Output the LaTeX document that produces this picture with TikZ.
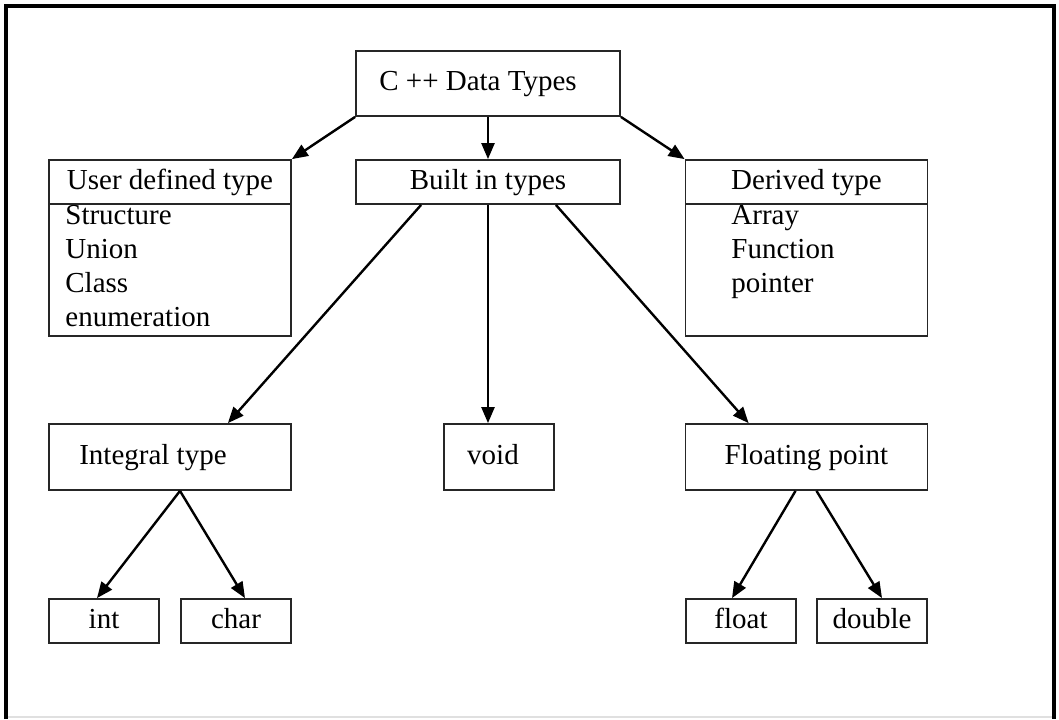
\documentclass[tikz,border=0pt]{standalone}
\usepackage{fontspec}
\setmainfont{Liberation Serif}
\usetikzlibrary{positioning}
\usetikzlibrary{arrows.meta}

\begin{document}
\begin{tikzpicture}[x=0.5pt, y=-0.5pt, font=\fontsize{14.5}{17}\selectfont,
    box/.style={draw=black!85, line width=0.9pt, inner sep=0pt, text height=10pt, text depth=3pt},
    arr/.style={draw=black, line width=1.2pt, -{Triangle[length=8pt,width=6.5pt]}}]
    \useasboundingbox (0,0) rectangle (1059,719);
    % frame
    \draw[black!12, line width=1pt] (6,717) -- (1054,717);
    \draw[line width=1.8pt] (6,719) -- (6,6) -- (1054,6) -- (1054,719);
    % nodes
    \node[box, minimum width=132pt, minimum height=32.5pt] (root) at (488,83.5) {\hspace*{-10pt}C ++ Data Types};
    \node[box, minimum width=121pt, minimum height=22pt] (user) at (170,182) {User defined type};
    \node[box, minimum width=121pt, minimum height=66pt] (userlist) at (170,270) {};
    \node[box, minimum width=132pt, minimum height=22pt] (built) at (488,182) {Built in types};
    \node[box, minimum width=121pt, minimum height=22pt] (derived) at (806.5,182) {Derived type};
    \node[box, minimum width=121pt, minimum height=66pt] (derivedlist) at (806.5,270) {};
    \node[anchor=north west, align=left, inner sep=0pt] (usertext) at (65,205) {Structure\\Union\\Class\\enumeration};
    \node[anchor=north west, align=left, inner sep=0pt] (derivedtext) at (731,205) {Array\\Function\\pointer};
    \node[box, minimum width=121pt, minimum height=33pt] (integral) at (170,457) {\hspace*{-17pt}Integral type};
    \node[box, minimum width=55pt, minimum height=33pt] (void) at (499,457) {\hspace*{-6pt}void};
    \node[box, minimum width=121pt, minimum height=33pt] (floating) at (806.5,457) {Floating point};
    \node[box, minimum width=55pt, minimum height=22pt] (int) at (104,621) {int};
    \node[box, minimum width=55pt, minimum height=22pt] (char) at (236,621) {char};
    \node[box, minimum width=55pt, minimum height=22pt] (float) at (741,621) {float};
    \node[box, minimum width=55pt, minimum height=22pt] (double) at (872,621) {double};
    % arrows
    \draw[arr] (root.south west) -- (user.north east);
    \draw[arr] (root.south) -- (built.north);
    \draw[arr] (root.south east) -- (derived.north west);
    \draw[arr] ([xshift=33pt]built.south west) -- ([xshift=-32pt]integral.north east);
    \draw[arr] (built.south) -- (built.south |- void.north);
    \draw[arr] ([xshift=-32.5pt]built.south east) -- ([xshift=32pt]floating.north west);
    \draw[arr] ([xshift=5pt]integral.south) -- ([xshift=-3.5pt]int.north);
    \draw[arr] ([xshift=5pt]integral.south) -- ([xshift=4.5pt]char.north);
    \draw[arr] ([xshift=-5.5pt]floating.south) -- ([xshift=-4.5pt]float.north);
    \draw[arr] ([xshift=5pt]floating.south) -- ([xshift=5pt]double.north);
\end{tikzpicture}
\end{document}
